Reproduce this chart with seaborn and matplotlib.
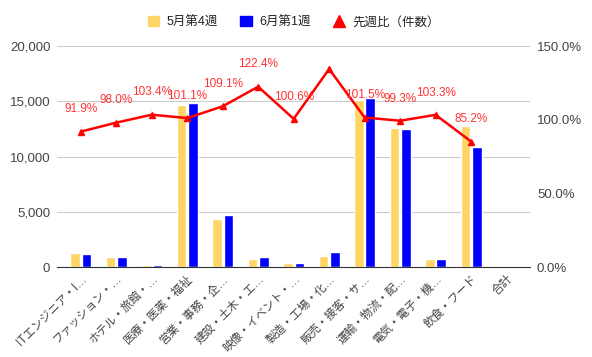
import numpy as np
import pandas as pd
import matplotlib
matplotlib.use('Agg')
import matplotlib.pyplot as plt
from matplotlib.lines import Line2D
from matplotlib.patches import Patch
import seaborn as sns

# 職種ごとの件数（5月第4週 / 6月第1週）と先週比
categories = ['ITエンジニア・I…', 'ファッション・…', 'ホテル・旅館・…', '医療・医薬・福祉',
              '営業・事務・企…', '建設・土木・エ…', '映像・イベント・…', '製造・工場・化…',
              '販売・接客・サ…', '運輸・物流・配…', '電気・電子・機…', '飲食・フード', '合計']
may_w4 = [1270, 920, 205, 14700, 4330, 750, 380, 1030, 15100, 12600, 690, 12770, np.nan]
jun_w1 = [1167, 902, 212, 14862, 4724, 918, 382, 1385, 15330, 12512, 713, 10880, np.nan]
ratio = [91.9, 98.0, 103.4, 101.1, 109.1, 122.4, 100.6, 134.4, 101.5, 99.3, 103.3, 85.2, np.nan]
ratio_labels = ['91.9%', '98.0%', '103.4%', '101.1%', '109.1%', '122.4%', '100.6%', None,
                '101.5%', '99.3%', '103.3%', '85.2%', None]

series_names = ['5月第4週', '6月第1週']
colors = ['#ffd666', '#0000ff']

df = pd.DataFrame({
    '職種': categories * 2,
    '件数': may_w4 + jun_w1,
    '週': [series_names[0]] * len(categories) + [series_names[1]] * len(categories),
})

sns.set_style('white')
plt.rcParams['font.family'] = ['Liberation Sans', 'Noto Sans CJK JP', 'DejaVu Sans']

fig = plt.figure(figsize=(5.92, 3.57), dpi=100)
ax = fig.add_axes([0.0968, 0.252, 0.7985, 0.619])

sns.barplot(data=df, x='職種', y='件数', hue='週', palette=colors, width=0.64, gap=0.15,
            saturation=1, legend=False, ax=ax)

ax.set_ylim(0, 20000)
ax.set_yticks([0, 5000, 10000, 15000, 20000])
ax.set_yticklabels(['0', '5,000', '10,000', '15,000', '20,000'])
ax.set_xlim(-0.66, 12.66)
ax.set_xlabel('')
ax.set_ylabel('')
ax.grid(axis='y', color='#cccccc', lw=0.8)
ax.set_axisbelow(True)
for s in ['left', 'right', 'top']:
    ax.spines[s].set_visible(False)
ax.spines['bottom'].set_color('#333333')
ax.tick_params(axis='y', length=0, labelsize=9.5, labelcolor='#444444', pad=5)
ax.tick_params(axis='x', length=0, labelsize=8.3, labelcolor='#444444', pad=4)
plt.setp(ax.get_xticklabels(), rotation=45, ha='right', rotation_mode='anchor')

ax2 = ax.twinx()
x = np.arange(len(categories))
ax2.plot(x, ratio, color='#ff0000', lw=1.8, marker='^', ms=4, zorder=5)
ax2.set_ylim(0, 150)
ax2.set_yticks([0, 50, 100, 150])
ax2.set_yticklabels(['0.0%', '50.0%', '100.0%', '150.0%'])
ax2.tick_params(axis='y', length=0, labelsize=9.5, labelcolor='#444444', pad=5)
for s in ['left', 'right', 'top', 'bottom']:
    ax2.spines[s].set_visible(False)

for xi, r, lab in zip(x, ratio, ratio_labels):
    if lab is None:
        continue
    ax2.annotate(lab, xy=(xi, r), xytext=(0, 16), textcoords='offset points',
                 ha='center', va='center', color='#ff3333', fontsize=8.5,
                 arrowprops=dict(arrowstyle='-', color='#e6e6e6', lw=0.8,
                                 shrinkA=6, shrinkB=2), zorder=6)

handles = [Patch(color=colors[0]), Patch(color=colors[1]),
           Line2D([], [], color='#ff0000', marker='^', ls='none', ms=8)]
fig.legend(handles, series_names + ['先週比（件数）'], loc='center', ncol=3,
           bbox_to_anchor=(0.496, 0.938), frameon=False, fontsize=9,
           handlelength=0.9, handleheight=0.9, handletextpad=0.6, columnspacing=1.8,
           labelcolor='#222222')

fig.savefig('out.png', dpi=100)
